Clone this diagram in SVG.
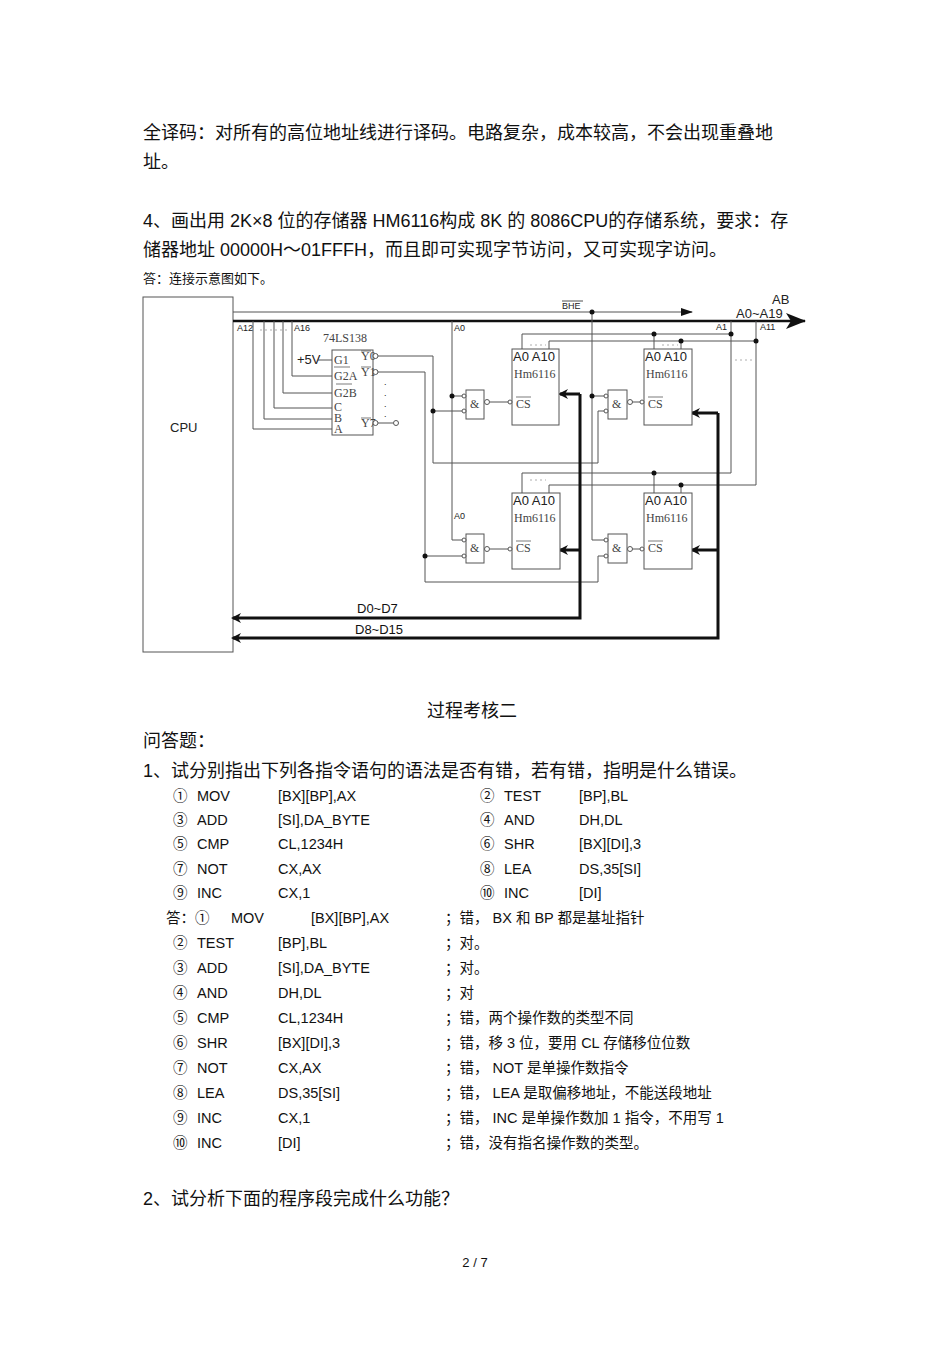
<svg xmlns="http://www.w3.org/2000/svg" width="950" height="1345" viewBox="0 0 950 1345">
<style>
.t{font-family:"Liberation Sans","Noto Sans CJK SC",sans-serif;font-size:18px;fill:#111}
.s{font-family:"Liberation Sans","Noto Sans CJK SC",sans-serif;font-size:14.5px;fill:#111}
.c{font-family:"Liberation Sans","Noto Sans CJK SC",sans-serif;font-size:13px;fill:#111}
.sm{font-family:"Liberation Sans",sans-serif;font-size:9px;fill:#222}
.ser{font-family:"Liberation Serif",serif;font-size:12px;fill:#444}
.ch{font-family:"Liberation Sans",sans-serif;font-size:13px;fill:#222}
.w{fill:none;stroke:#555;stroke-width:1}
.b{fill:#fff;stroke:#555;stroke-width:1}
.th{fill:none;stroke:#111;stroke-width:3}
.d{fill:#111}
.dt{fill:none;stroke:#999;stroke-width:0.8;stroke-dasharray:2 3}
</style>
<defs>
<marker id="ah" markerWidth="10" markerHeight="10" refX="8" refY="5" orient="auto" markerUnits="userSpaceOnUse"><path d="M0,0 L10,5 L0,10 L3,5 Z" fill="#111"/></marker>
<marker id="as" markerWidth="12" markerHeight="8" refX="11" refY="4" orient="auto" markerUnits="userSpaceOnUse"><path d="M0,0 L12,4 L0,8 Z" fill="#111"/></marker>
<marker id="ab" markerWidth="20" markerHeight="16" refX="19" refY="8" orient="auto" markerUnits="userSpaceOnUse"><path d="M0,0 L20,8 L0,16 L5,8 Z" fill="#111"/></marker>
</defs>
<rect width="950" height="1345" fill="#fff"/>
<text class="t" x="143" y="139">全译码：对所有的高位地址线进行译码。电路复杂，成本较高，不会出现重叠地</text>
<text class="t" x="143" y="168">址。</text>
<text class="t" x="143" y="227">4、画出用  2K×8 位的存储器  HM6116构成  8K 的 8086CPU的存储系统，要求：存</text>
<text class="t" x="143" y="256">储器地址  00000H～01FFFH，而且即可实现字节访问，又可实现字访问。</text>
<text class="c" x="143" y="283">答：连接示意图如下。</text>

<g id="cpu"><rect x="143" y="297" width="90" height="355" class="b"/><text class="ch" x="170" y="432">CPU</text></g>
<g id="connectors">
<line x1="233" y1="312" x2="692" y2="312" class="w" marker-end="url(#as)"/>
<line x1="233" y1="321" x2="805" y2="321" stroke="#111" stroke-width="2.5" marker-end="url(#ab)"/>
<polyline points="253,321 253,429 332,429" class="w"/>
<polyline points="264,321 264,419 332,419" class="w"/>
<polyline points="274,321 274,408 332,408" class="w"/>
<polyline points="283,321 283,393 332,393" class="w"/>
<polyline points="292,321 292,376 332,376" class="w"/>
<line x1="318" y1="360" x2="332" y2="360" class="w"/>
<polyline points="378,356 433,356 433,463 598,463 598,411 605,411" class="w"/>
<polyline points="378,372 425,372 425,582 598,582 598,556 605,556" class="w"/>
<line x1="378" y1="423" x2="393" y2="423" class="w"/>
<circle cx="396" cy="423" r="2.5" class="b"/>
<polyline points="452,321 452,540 463,540" class="w"/>
<line x1="452" y1="396" x2="463" y2="396" class="w"/>
<line x1="433" y1="411" x2="463" y2="411" class="w"/>
<line x1="425" y1="556" x2="463" y2="556" class="w"/>
<polyline points="592,312 592,540 605,540" class="w"/>
<line x1="592" y1="396" x2="605" y2="396" class="w"/>
<line x1="490" y1="402" x2="509" y2="402" class="w"/>
<line x1="630" y1="402" x2="641" y2="402" class="w"/>
<line x1="490" y1="549" x2="509" y2="549" class="w"/>
<line x1="630" y1="549" x2="641" y2="549" class="w"/>
<polyline points="522,349 522,334 731,334" class="w"/>
<polyline points="549,349 549,341 756,341" class="w"/>
<line x1="654" y1="334" x2="654" y2="349" class="w"/>
<line x1="681" y1="341" x2="681" y2="349" class="w"/>
<polyline points="731,321 731,473 522,473 522,493" class="w"/>
<polyline points="756,321 756,485 549,485 549,493" class="w"/>
<line x1="654" y1="473" x2="654" y2="493" class="w"/>
<line x1="681" y1="485" x2="681" y2="493" class="w"/>
<line x1="530" y1="345" x2="546" y2="345" class="dt"/>
<line x1="662" y1="345" x2="678" y2="345" class="dt"/>
<line x1="530" y1="480" x2="546" y2="480" class="dt"/>
<line x1="735" y1="360" x2="753" y2="360" class="dt"/>
<line x1="260" y1="330" x2="288" y2="330" class="dt"/>
<polyline points="580,394 580,618 233,618" class="th" marker-end="url(#ah)"/>
<line x1="580" y1="394" x2="560" y2="394" class="th" marker-end="url(#ah)"/>
<line x1="580" y1="550" x2="560" y2="550" class="th" marker-end="url(#ah)"/>
<polyline points="718,413 718,638 233,638" class="th" marker-end="url(#ah)"/>
<line x1="718" y1="413" x2="692" y2="413" class="th" marker-end="url(#ah)"/>
<line x1="718" y1="550" x2="692" y2="550" class="th" marker-end="url(#ah)"/>
<circle cx="452" cy="396" r="2.5" class="d"/><circle cx="433" cy="411" r="2.5" class="d"/>
<circle cx="592" cy="312" r="2.5" class="d"/><circle cx="592" cy="396" r="2.5" class="d"/>
<circle cx="654" cy="334" r="2.5" class="d"/><circle cx="681" cy="341" r="2.5" class="d"/>
<circle cx="731" cy="334" r="2.5" class="d"/><circle cx="756" cy="341" r="2.5" class="d"/>
<circle cx="654" cy="473" r="2.5" class="d"/><circle cx="681" cy="485" r="2.5" class="d"/>
<circle cx="425" cy="556" r="2.5" class="d"/>
</g>
<g id="labels">
<text class="sm" x="237" y="331">A12</text><text class="sm" x="294" y="331">A16</text>
<text class="sm" x="454" y="331">A0</text><text class="sm" x="454" y="519">A0</text>
<text class="sm" x="562" y="309">BHE</text><line x1="562" y1="301" x2="583" y2="301" stroke="#222" stroke-width="0.8"/>
<text class="sm" x="716" y="330">A1</text><text class="sm" x="760" y="330">A11</text>
<text class="ch" x="736" y="318" font-size="12">A0~A19</text><text class="ch" x="772" y="304">AB</text>
<text class="c" x="357" y="613">D0~D7</text><text class="c" x="355" y="634">D8~D15</text>
</g>
<g id="dec74ls138">
<text class="ser" x="323" y="342" font-size="12.5">74LS138</text>
<rect x="332" y="350" width="41" height="85" class="b"/>
<text class="ch" x="297" y="364">+5V</text>
<text class="ser" x="334" y="364" font-size="11">G1</text><text class="ser" x="334" y="380" font-size="11">G2A</text><text class="ser" x="334" y="397" font-size="11">G2B</text>
<line x1="334" y1="367" x2="350" y2="367" stroke="#444" stroke-width="0.7"/><line x1="336" y1="384" x2="352" y2="384" stroke="#444" stroke-width="0.7"/>
<text class="ser" x="334" y="411" font-size="9">C</text><text class="ser" x="334" y="422" font-size="9">B</text><text class="ser" x="334" y="433" font-size="9">A</text>
<text class="ser" x="361" y="360" font-size="9.5">Y0</text><text class="ser" x="361" y="376" font-size="9.5">Y1</text><text class="ser" x="361" y="427" font-size="9.5">Y7</text>
<line x1="361" y1="351" x2="371" y2="351" stroke="#444" stroke-width="0.7"/><line x1="361" y1="367" x2="371" y2="367" stroke="#444" stroke-width="0.7"/><line x1="361" y1="418" x2="371" y2="418" stroke="#444" stroke-width="0.7"/>
<circle cx="375.5" cy="356" r="2.5" class="b"/><circle cx="375.5" cy="372" r="2.5" class="b"/><circle cx="375.5" cy="423" r="2.5" class="b"/>
<text class="sm" x="384" y="385">.</text><text class="sm" x="384" y="396">.</text><text class="sm" x="384" y="407">.</text><text class="sm" x="384" y="417">.</text>
</g>
<g id="gate1"><rect x="466" y="390" width="18" height="29" class="b"/><text class="ser" x="470" y="408">&amp;</text><circle cx="464" cy="396" r="2" class="b"/><circle cx="464" cy="411" r="2" class="b"/><circle cx="487" cy="402" r="2.5" class="b"/></g>
<g id="gate2"><rect x="608" y="390" width="19" height="29" class="b"/><text class="ser" x="612" y="408">&amp;</text><circle cx="606" cy="396" r="2" class="b"/><circle cx="606" cy="411" r="2" class="b"/><circle cx="630" cy="402" r="2.5" class="b"/></g>
<g id="gate3"><rect x="466" y="534" width="18" height="29" class="b"/><text class="ser" x="470" y="552">&amp;</text><circle cx="464" cy="540" r="2" class="b"/><circle cx="464" cy="556" r="2" class="b"/><circle cx="487" cy="549" r="2.5" class="b"/></g>
<g id="gate4"><rect x="608" y="534" width="19" height="29" class="b"/><text class="ser" x="612" y="552">&amp;</text><circle cx="606" cy="540" r="2" class="b"/><circle cx="606" cy="556" r="2" class="b"/><circle cx="630" cy="549" r="2.5" class="b"/></g>
<g id="chip1"><rect x="512" y="349" width="47" height="76" class="b"/><text class="ch" x="513" y="361">A0 A10</text><text class="ser" x="514" y="378">Hm6116</text><text class="ser" x="516" y="408">CS</text><line x1="516" y1="397" x2="531" y2="397" stroke="#444" stroke-width="0.7"/><circle cx="510" cy="402" r="2" class="b"/></g>
<g id="chip2"><rect x="644" y="349" width="48" height="76" class="b"/><text class="ch" x="645" y="361">A0 A10</text><text class="ser" x="646" y="378">Hm6116</text><text class="ser" x="648" y="408">CS</text><line x1="648" y1="397" x2="663" y2="397" stroke="#444" stroke-width="0.7"/><circle cx="642" cy="402" r="2" class="b"/></g>
<g id="chip3"><rect x="512" y="493" width="48" height="76" class="b"/><text class="ch" x="513" y="505">A0 A10</text><text class="ser" x="514" y="522">Hm6116</text><text class="ser" x="516" y="552">CS</text><line x1="516" y1="541" x2="531" y2="541" stroke="#444" stroke-width="0.7"/><circle cx="510" cy="549" r="2" class="b"/></g>
<g id="chip4"><rect x="644" y="493" width="48" height="76" class="b"/><text class="ch" x="645" y="505">A0 A10</text><text class="ser" x="646" y="522">Hm6116</text><text class="ser" x="648" y="552">CS</text><line x1="648" y1="541" x2="663" y2="541" stroke="#444" stroke-width="0.7"/><circle cx="642" cy="549" r="2" class="b"/></g>

<text class="t" x="472" y="717" text-anchor="middle">过程考核二</text>
<text class="t" x="143" y="747">问答题：</text>
<text class="t" x="143" y="777">1、试分别指出下列各指令语句的语法是否有错，若有错，指明是什么错误。</text>
<g>
<text class="s" x="173" y="801">①</text><text class="s" x="197" y="801">MOV</text><text class="s" x="278" y="801">[BX][BP],AX</text><text class="s" x="480" y="801">②</text><text class="s" x="504" y="801">TEST</text><text class="s" x="579" y="801">[BP],BL</text>
<text class="s" x="173" y="825">③</text><text class="s" x="197" y="825">ADD</text><text class="s" x="278" y="825">[SI],DA_BYTE</text><text class="s" x="480" y="825">④</text><text class="s" x="504" y="825">AND</text><text class="s" x="579" y="825">DH,DL</text>
<text class="s" x="173" y="849">⑤</text><text class="s" x="197" y="849">CMP</text><text class="s" x="278" y="849">CL,1234H</text><text class="s" x="480" y="849">⑥</text><text class="s" x="504" y="849">SHR</text><text class="s" x="579" y="849">[BX][DI],3</text>
<text class="s" x="173" y="874">⑦</text><text class="s" x="197" y="874">NOT</text><text class="s" x="278" y="874">CX,AX</text><text class="s" x="480" y="874">⑧</text><text class="s" x="504" y="874">LEA</text><text class="s" x="579" y="874">DS,35[SI]</text>
<text class="s" x="173" y="898">⑨</text><text class="s" x="197" y="898">INC</text><text class="s" x="278" y="898">CX,1</text><text class="s" x="480" y="898">⑩</text><text class="s" x="504" y="898">INC</text><text class="s" x="579" y="898">[DI]</text>
<text class="s" x="166" y="923">答：①</text><text class="s" x="231" y="923">MOV</text><text class="s" x="311" y="923">[BX][BP],AX</text><text class="s" x="445" y="923">；错， BX 和 BP 都是基址指针</text>
<text class="s" x="173" y="948">②</text><text class="s" x="197" y="948">TEST</text><text class="s" x="278" y="948">[BP],BL</text><text class="s" x="445" y="948">；对。</text>
<text class="s" x="173" y="973">③</text><text class="s" x="197" y="973">ADD</text><text class="s" x="278" y="973">[SI],DA_BYTE</text><text class="s" x="445" y="973">；对。</text>
<text class="s" x="173" y="998">④</text><text class="s" x="197" y="998">AND</text><text class="s" x="278" y="998">DH,DL</text><text class="s" x="445" y="998">；对</text>
<text class="s" x="173" y="1023">⑤</text><text class="s" x="197" y="1023">CMP</text><text class="s" x="278" y="1023">CL,1234H</text><text class="s" x="445" y="1023">；错，两个操作数的类型不同</text>
<text class="s" x="173" y="1048">⑥</text><text class="s" x="197" y="1048">SHR</text><text class="s" x="278" y="1048">[BX][DI],3</text><text class="s" x="445" y="1048">；错，移  3 位，要用  CL 存储移位位数</text>
<text class="s" x="173" y="1073">⑦</text><text class="s" x="197" y="1073">NOT</text><text class="s" x="278" y="1073">CX,AX</text><text class="s" x="445" y="1073">；错， NOT 是单操作数指令</text>
<text class="s" x="173" y="1098">⑧</text><text class="s" x="197" y="1098">LEA</text><text class="s" x="278" y="1098">DS,35[SI]</text><text class="s" x="445" y="1098">；错， LEA 是取偏移地址，不能送段地址</text>
<text class="s" x="173" y="1123">⑨</text><text class="s" x="197" y="1123">INC</text><text class="s" x="278" y="1123">CX,1</text><text class="s" x="445" y="1123">；错， INC 是单操作数加  1 指令，不用写  1</text>
<text class="s" x="173" y="1148">⑩</text><text class="s" x="197" y="1148">INC</text><text class="s" x="278" y="1148">[DI]</text><text class="s" x="445" y="1148">；错，没有指名操作数的类型。</text>
</g>
<text class="t" x="143" y="1205">2、试分析下面的程序段完成什么功能？</text>
<text class="c" x="475" y="1267" text-anchor="middle">2 / 7</text>
</svg>
